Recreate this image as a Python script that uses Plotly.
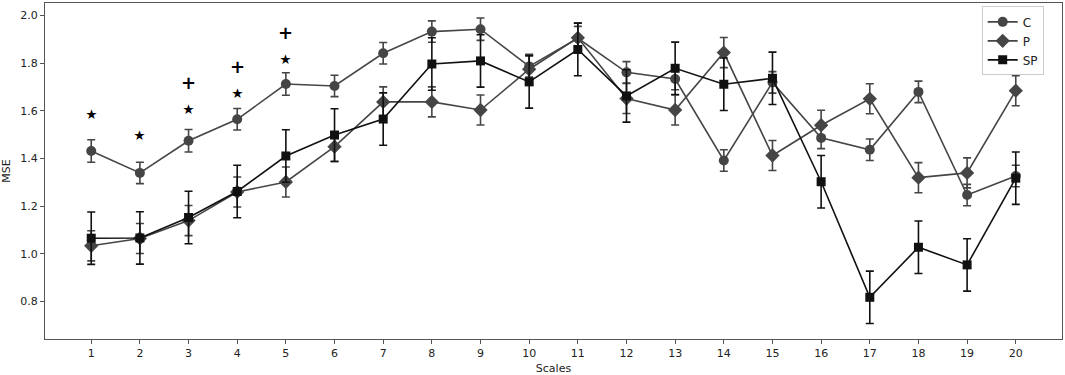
import plotly.graph_objects as go

scales = list(range(1, 21))
c_mean = [1.432, 1.340, 1.475, 1.565, 1.713, 1.705, 1.842, 1.933, 1.943, 1.787, 1.905, 1.762, 1.734, 1.392, 1.720, 1.487, 1.437, 1.680, 1.247, 1.327]
c_err = [0.047, 0.045, 0.047, 0.045, 0.047, 0.045, 0.045, 0.045, 0.047, 0.045, 0.050, 0.045, 0.045, 0.045, 0.045, 0.045, 0.045, 0.045, 0.045, 0.045]
p_mean = [1.034, 1.065, 1.140, 1.260, 1.302, 1.450, 1.638, 1.638, 1.604, 1.775, 1.907, 1.652, 1.604, 1.845, 1.413, 1.540, 1.651, 1.320, 1.340, 1.685]
p_err = [0.063, 0.063, 0.063, 0.063, 0.063, 0.063, 0.063, 0.063, 0.063, 0.063, 0.063, 0.063, 0.063, 0.063, 0.063, 0.063, 0.063, 0.063, 0.063, 0.063]
sp_mean = [1.066, 1.067, 1.153, 1.262, 1.411, 1.499, 1.566, 1.797, 1.810, 1.722, 1.858, 1.663, 1.779, 1.712, 1.737, 1.303, 0.818, 1.028, 0.954, 1.318]
sp_err = [0.110, 0.110, 0.110, 0.110, 0.110, 0.110, 0.110, 0.110, 0.110, 0.110, 0.110, 0.110, 0.110, 0.110, 0.110, 0.110, 0.110, 0.110, 0.110, 0.110]

star_x = [1, 2, 3, 4, 5]
star_y = [1.59, 1.502, 1.611, 1.678, 1.82]
plus_x = [3, 4, 5]
plus_y = [1.719, 1.788, 1.93]

gray = "#454545"
black = "#111111"

fig = go.Figure()

def add_series(name, y, err, color, symbol, size):
    fig.add_trace(go.Scatter(
        x=scales, y=y, name=name, mode="lines+markers",
        line=dict(color=color, width=1.6),
        marker=dict(symbol=symbol, size=size, color=color),
        error_y=dict(type="data", array=err, visible=True, color=color, thickness=1.6, width=4),
    ))

add_series("C", c_mean, c_err, gray, "circle", 10)
add_series("P", p_mean, p_err, gray, "diamond", 11)
add_series("SP", sp_mean, sp_err, black, "square", 9)

for x, y in zip(star_x, star_y):
    fig.add_annotation(x=x, y=y, text="⋆", showarrow=False,
                       font=dict(family="DejaVu Sans", size=27, color="black"))
for x, y in zip(plus_x, plus_y):
    fig.add_annotation(x=x, y=y, text="<b>+</b>", showarrow=False,
                       font=dict(family="DejaVu Sans", size=18, color="black"))

axis_common = dict(
    showgrid=False, zeroline=False, showline=True, linecolor="#555555", linewidth=1.2,
    mirror=True, ticks="outside", ticklen=4, tickcolor="#555555", automargin=False,
    tickfont=dict(family="DejaVu Sans", size=11, color="#222222"),
)

fig.update_layout(
    width=1065, height=375,
    margin=dict(l=45, r=3, t=3, b=36),
    paper_bgcolor="white", plot_bgcolor="white",
    font=dict(family="DejaVu Sans", size=11, color="#222222"),
    xaxis=dict(range=[0.05, 20.95], tickmode="array", tickvals=scales,
               title=dict(text="Scales", standoff=5, font=dict(size=11)), **axis_common),
    yaxis=dict(range=[0.643, 2.053], tickmode="array", tickvals=[0.8, 1.0, 1.2, 1.4, 1.6, 1.8, 2.0],
               tickformat=".1f",
               title=dict(text="MSE", standoff=9, font=dict(size=11)), **axis_common),
    legend=dict(x=0.982, y=0.99, xanchor="right", yanchor="top",
                bgcolor="rgba(255,255,255,0.8)", bordercolor="#cccccc", borderwidth=1,
                font=dict(size=12, color="#222222"), itemwidth=30, tracegroupgap=0),
    showlegend=True,
)

fig.write_html("out.html", config={"displayModeBar": False},
               post_script="document.body.style.margin='0';")
